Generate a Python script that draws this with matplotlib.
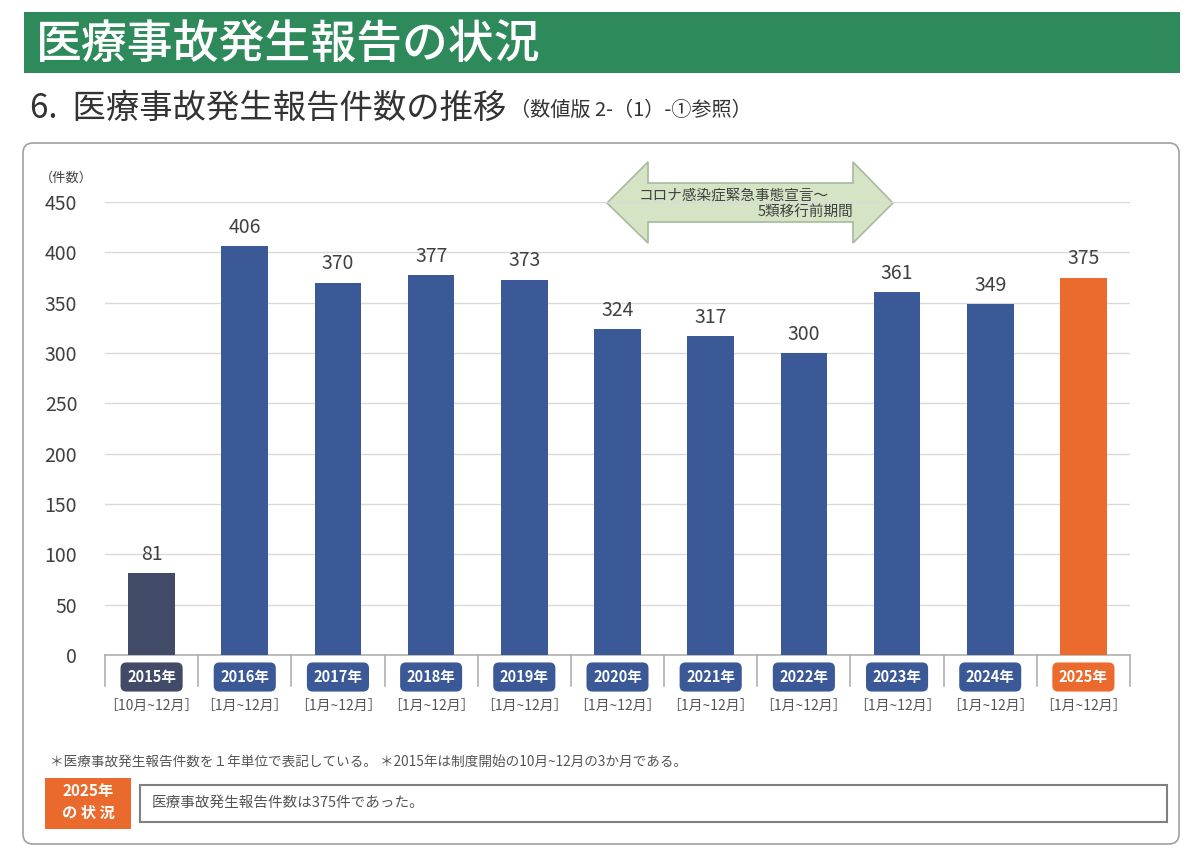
import matplotlib
matplotlib.use("Agg")
import matplotlib.pyplot as plt
from matplotlib.patches import FancyBboxPatch, Polygon, Rectangle
from matplotlib.transforms import blended_transform_factory

plt.rcParams['font.family'] = ['Noto Sans CJK JP', 'DejaVu Sans']

# ---- data ----
years = ["2015年", "2016年", "2017年", "2018年", "2019年", "2020年",
         "2021年", "2022年", "2023年", "2024年", "2025年"]
periods = ["［10月~12月］"] + ["［1月~12月］"] * 10
counts = [81, 406, 370, 377, 373, 324, 317, 300, 361, 349, 375]
yticks = [0, 50, 100, 150, 200, 250, 300, 350, 400, 450]

c_first = "#414a67"
c_mid = "#3b5997"
c_last = "#eb6a2e"
bar_colors = [c_first] + [c_mid] * 9 + [c_last]

W, H = 1200, 848
fig = plt.figure(figsize=(W / 100, H / 100), dpi=100)
fig.patch.set_facecolor("white")

# overlay axes in pixel coordinates
bg = fig.add_axes([0, 0, 1, 1], zorder=0)
bg.set_xlim(0, W)
bg.set_ylim(H, 0)
bg.axis("off")

# green banner
bg.add_patch(Rectangle((24, 12), 1156, 61, color="#2f8a5b", lw=0))
bg.text(36, 44, "医療事故発生報告の状況", color="white", fontsize=33,
        va="center", ha="left", fontweight="medium")

# subtitle
bg.text(30, 108, "6.  医療事故発生報告件数の推移", color="#333333", fontsize=24,
        va="center", ha="left")
bg.text(510, 110, "（数値版 2-（1）-①参照）", color="#333333", fontsize=14.5,
        va="center", ha="left")

# rounded frame
bg.add_patch(FancyBboxPatch((23, 143), 1156, 701,
                            boxstyle="round,pad=0,rounding_size=10",
                            fc="white", ec="#a0a0a0", lw=1.2))

# chart axes: x 105..1130, y 655 (0) .. 202 (450)
ax = fig.add_axes([105 / W, 1 - 655 / H, (1130 - 105) / W, (655 - 202) / H], zorder=2)
ax.patch.set_alpha(0)
x = list(range(len(years)))
bars = ax.bar(x, counts, width=0.5, color=bar_colors, zorder=3)
ax.set_xlim(-0.5, len(years) - 0.5)
ax.set_ylim(0, 450)
ax.set_yticks(yticks)
ax.set_yticklabels([str(t) for t in yticks], fontsize=14, color="#404040")
ax.tick_params(axis="y", length=0, pad=20)
ax.set_xticks([])
ax.yaxis.grid(True, color="#d9d9d9", lw=1, zorder=0)
for s in ["top", "right", "left"]:
    ax.spines[s].set_visible(False)
ax.spines["bottom"].set_color("#b0b0b0")
ax.spines["bottom"].set_linewidth(1.2)

for xi, v in zip(x, counts):
    ax.text(xi, v + 8, str(v), ha="center", va="bottom", fontsize=14,
            color="#404040")

# category separators below axis
trans = blended_transform_factory(ax.transData, fig.transFigure)
for b in [i - 0.5 for i in range(len(years) + 1)]:
    ax.plot([b, b], [1 - 655 / H, 1 - 686 / H], transform=trans,
            color="#b0b0b0", lw=1.2, clip_on=False)

for xi, yl, pl, col in zip(x, years, periods, bar_colors):
    ax.text(xi, 1 - 677 / H, yl, transform=trans, ha="center", va="center",
            fontsize=10.5, fontweight="bold", color="white",
            bbox=dict(boxstyle="round,pad=0.45,rounding_size=0.4", fc=col, ec="none"))
    ax.text(xi, 1 - 706 / H, pl, transform=trans, ha="center", va="center",
            fontsize=10, color="#555555")

bg.text(40, 178, "（件数）", fontsize=9.5, color="#444444", va="center", ha="left")

# double arrow
arrow = [(607, 203), (648, 162), (648, 183), (853, 183), (853, 162), (893, 203),
         (853, 243), (853, 222), (648, 222), (648, 243)]
bg.add_patch(Polygon(arrow, closed=True, fc="#d6e4c6", ec="#a9b99d", lw=1.2, zorder=5))
bg.text(639, 196, "コロナ感染症緊急事態宣言～", fontsize=10.5, color="#404040",
        ha="left", va="center", zorder=6)
bg.text(853, 213, "5類移行前期間", fontsize=10.5, color="#404040",
        ha="right", va="center", zorder=6)

# footnotes
bg.text(50, 763, "＊医療事故発生報告件数を１年単位で表記している。 ＊2015年は制度開始の10月~12月の3か月である。",
        fontsize=9.8, color="#555555", ha="left", va="center")
bg.add_patch(Rectangle((45, 778), 86, 51, color="#ea6a2d", lw=0))
bg.text(88, 791, "2025年", fontsize=11, color="white", ha="center", va="center",
        fontweight="bold")
bg.text(88, 813, "の 状 況", fontsize=11, color="white", ha="center", va="center",
        fontweight="bold")
bg.add_patch(Rectangle((140, 785), 1027, 37, fc="white", ec="#808080", lw=1.5))
bg.text(152, 803, "医療事故発生報告件数は375件であった。", fontsize=10.5,
        color="#555555", ha="left", va="center")

fig.savefig("out.png", dpi=100, facecolor="white")
